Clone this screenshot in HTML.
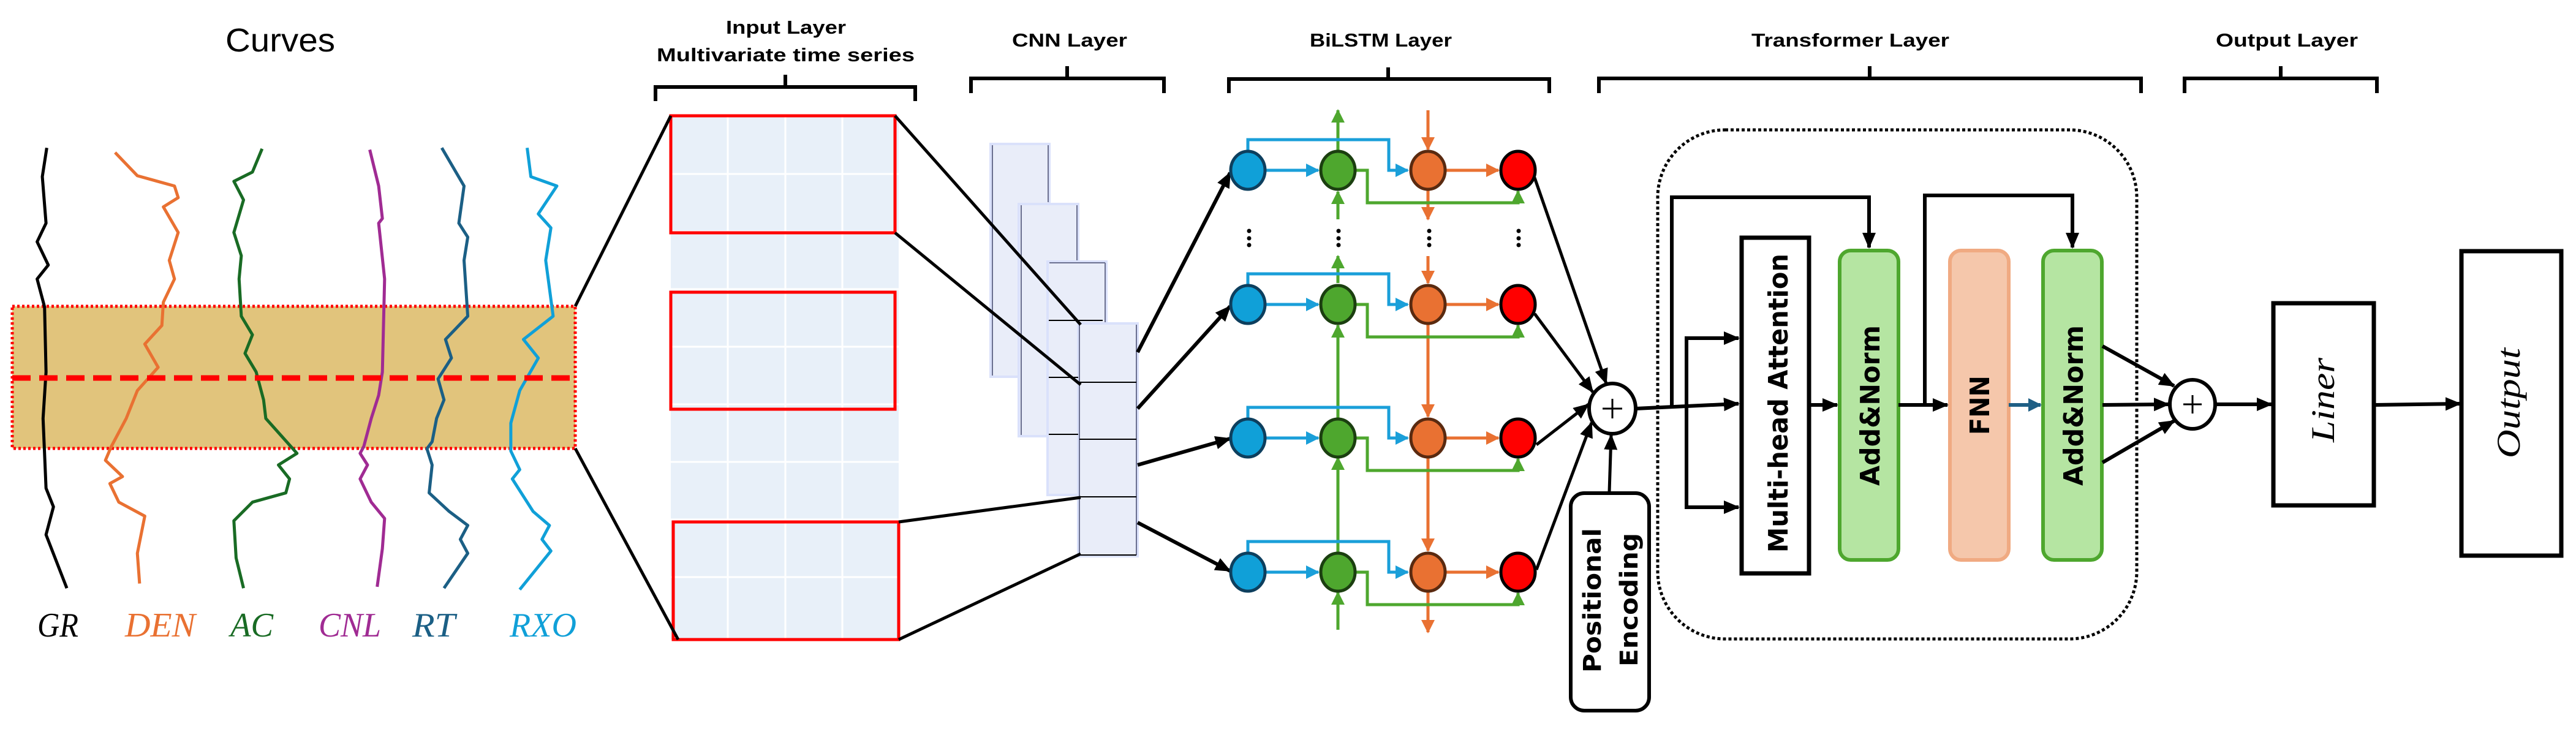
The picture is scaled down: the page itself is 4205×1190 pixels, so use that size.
<!DOCTYPE html>
<html><head><meta charset="utf-8"><style>
html,body{margin:0;padding:0;background:#fff;}
svg{display:block;}
</style></head><body>
<svg width="4205" height="1190" viewBox="0 0 4205 1190" xmlns="http://www.w3.org/2000/svg">
<defs>
<marker id="ak" markerUnits="userSpaceOnUse" markerWidth="26" markerHeight="26" refX="24" refY="13" orient="auto"><path d="M0,2 L26,13 L0,24 Z" fill="#000"/></marker>
<marker id="ab" markerUnits="userSpaceOnUse" markerWidth="22" markerHeight="22" refX="20" refY="11" orient="auto"><path d="M0,0 L22,11 L0,22 Z" fill="#1a9fd9"/></marker>
<marker id="ag" markerUnits="userSpaceOnUse" markerWidth="22" markerHeight="22" refX="20" refY="11" orient="auto"><path d="M0,0 L22,11 L0,22 Z" fill="#4ea72e"/></marker>
<marker id="ao" markerUnits="userSpaceOnUse" markerWidth="22" markerHeight="22" refX="20" refY="11" orient="auto"><path d="M0,0 L22,11 L0,22 Z" fill="#e97132"/></marker>
<marker id="at" markerUnits="userSpaceOnUse" markerWidth="22" markerHeight="22" refX="20" refY="11" orient="auto"><path d="M0,0 L22,11 L0,22 Z" fill="#1f5f85"/></marker>
</defs>

<!-- Headers -->
<g font-family="'Liberation Sans Narrow','Liberation Sans',sans-serif" fill="#000">
<text x="368" y="84" font-size="54" textLength="179" lengthAdjust="spacingAndGlyphs">Curves</text>
<text x="1185" y="55" font-size="31" font-weight="bold" textLength="196" lengthAdjust="spacingAndGlyphs">Input Layer</text>
<text x="1072" y="100" font-size="31" font-weight="bold" textLength="421" lengthAdjust="spacingAndGlyphs">Multivariate time series</text>
<text x="1652" y="76" font-size="31" font-weight="bold" textLength="188" lengthAdjust="spacingAndGlyphs">CNN Layer</text>
<text x="2138" y="76" font-size="31" font-weight="bold" textLength="232" lengthAdjust="spacingAndGlyphs">BiLSTM Layer</text>
<text x="2859" y="76" font-size="31" font-weight="bold" textLength="323" lengthAdjust="spacingAndGlyphs">Transformer Layer</text>
<text x="3617" y="76" font-size="31" font-weight="bold" textLength="232" lengthAdjust="spacingAndGlyphs">Output Layer</text>
</g>
<!-- Brackets -->
<g fill="none" stroke="#000" stroke-width="6">
<path d="M1070,165 V142 H1494 V165 M1282,142 V122"/>
<path d="M1585,152 V128 H1900 V152 M1742,128 V108"/>
<path d="M2006,152 V129 H2529 V152 M2266,129 V110"/>
<path d="M2610,152 V128 H3495 V152 M3052,128 V108"/>
<path d="M3566,152 V128 H3880 V152 M3723,128 V108"/>
</g>

<!-- Curves band -->
<rect x="20" y="500" width="919" height="232" fill="#e1c47c" stroke="#ff0000" stroke-width="5" stroke-dasharray="4 4"/>
<g fill="none" stroke-width="5" stroke-linejoin="round" transform="scale(1.212,0.759)">
<polyline vector-effect="non-scaling-stroke" stroke="#000" points="63,318 57,380 62,480 50,520 65,570 50,600 60,660 62,800 58,900 62,1050 72,1090 62,1150 90,1265"/>
<polyline vector-effect="non-scaling-stroke" stroke="#e97132" points="155,328 185,378 235,400 240,425 220,445 240,500 228,560 235,600 220,650 218,700 195,740 213,790 185,840 170,900 150,960 142,990 165,1025 148,1040 160,1080 195,1110 185,1190 188,1255"/>
<polyline vector-effect="non-scaling-stroke" stroke="#196b24" points="353,320 340,370 315,390 328,430 315,500 325,550 322,600 325,680 340,720 330,760 345,800 355,860 358,900 400,975 375,1000 390,1030 385,1060 340,1080 315,1120 318,1200 328,1265"/>
<polyline vector-effect="non-scaling-stroke" stroke="#a02b93" points="498,322 510,400 515,470 510,480 518,600 515,800 510,850 500,900 490,960 485,975 495,1000 485,1030 500,1080 518,1115 515,1180 508,1262"/>
<polyline vector-effect="non-scaling-stroke" stroke="#1b5f85" points="595,318 625,400 618,480 630,510 625,560 630,680 600,730 608,770 590,815 598,860 588,900 582,950 575,965 582,1000 578,1060 605,1100 630,1130 620,1160 630,1190 598,1265"/>
<polyline vector-effect="non-scaling-stroke" stroke="#10a0d8" points="710,318 715,380 750,400 725,460 742,490 735,560 740,620 745,680 705,730 725,770 700,840 688,910 688,970 700,1010 690,1030 718,1100 740,1130 730,1160 742,1185 700,1268"/>
</g>
<line x1="20" y1="617" x2="939" y2="617" stroke="#ff0000" stroke-width="9" stroke-dasharray="30 14"/>
<g font-family="'Liberation Serif',serif" font-style="italic" font-size="56">
<text x="61" y="1039" fill="#000" textLength="67" lengthAdjust="spacingAndGlyphs">GR</text>
<text x="204" y="1039" fill="#e97132" textLength="115" lengthAdjust="spacingAndGlyphs">DEN</text>
<text x="376" y="1039" fill="#196b24" textLength="70" lengthAdjust="spacingAndGlyphs">AC</text>
<text x="520" y="1039" fill="#a02b93" textLength="102" lengthAdjust="spacingAndGlyphs">CNL</text>
<text x="673" y="1039" fill="#1b5f85" textLength="70" lengthAdjust="spacingAndGlyphs">RT</text>
<text x="832" y="1039" fill="#10a0d8" textLength="109" lengthAdjust="spacingAndGlyphs">RXO</text>
</g>

<!-- Input grid -->
<rect x="1095" y="188" width="372" height="856" fill="#e8f0f9"/>
<g stroke="#fff" stroke-width="3">
<line x1="1188" y1="188" x2="1188" y2="1044"/><line x1="1282" y1="188" x2="1282" y2="1044"/><line x1="1375" y1="188" x2="1375" y2="1044"/>
<line x1="1095" y1="284" x2="1467" y2="284"/><line x1="1095" y1="378" x2="1467" y2="378"/><line x1="1095" y1="472" x2="1467" y2="472"/><line x1="1095" y1="566" x2="1467" y2="566"/><line x1="1095" y1="660" x2="1467" y2="660"/><line x1="1095" y1="754" x2="1467" y2="754"/><line x1="1095" y1="848" x2="1467" y2="848"/><line x1="1095" y1="942" x2="1467" y2="942"/>
</g>
<g fill="none" stroke="#ff0000" stroke-width="5">
<rect x="1095" y="189" width="366" height="191"/>
<rect x="1095" y="477" width="366" height="191"/>
<rect x="1099" y="852" width="368" height="192"/>
</g>
<g stroke="#000" stroke-width="5">
<line x1="939" y1="500" x2="1095" y2="189"/>
<line x1="939" y1="732" x2="1107" y2="1044"/>
</g>

<!-- CNN stacks -->
<g fill="#e9edf9" stroke="#dae1fb" stroke-width="4">
<rect x="1617" y="235" width="96" height="380"/>
<rect x="1663" y="333" width="97" height="379"/>
<rect x="1710" y="427" width="96" height="381"/>
<rect x="1760" y="528" width="97" height="380"/>
</g>
<g stroke="#6b7090" stroke-width="2" fill="none">
<line x1="1620" y1="237" x2="1620" y2="613"/><line x1="1711" y1="237" x2="1711" y2="330"/>
<line x1="1667" y1="335" x2="1667" y2="710"/><line x1="1758" y1="335" x2="1758" y2="425"/>
<line x1="1713" y1="429" x2="1804" y2="429"/><line x1="1804" y1="429" x2="1804" y2="526"/>
<line x1="1762" y1="530" x2="1762" y2="906"/><line x1="1855" y1="530" x2="1855" y2="906"/>
</g>
<g stroke="#000" stroke-width="2">
<line x1="1712" y1="523" x2="1800" y2="523"/><line x1="1712" y1="616" x2="1760" y2="616"/><line x1="1712" y1="709" x2="1760" y2="709"/>
<line x1="1762" y1="624" x2="1855" y2="624"/><line x1="1762" y1="717" x2="1855" y2="717"/><line x1="1762" y1="811" x2="1855" y2="811"/><line x1="1762" y1="906" x2="1855" y2="906"/>
</g>
<g stroke="#000" stroke-width="5">
<line x1="1461" y1="189" x2="1764" y2="530"/>
<line x1="1461" y1="380" x2="1764" y2="628"/>
<line x1="1467" y1="852" x2="1764" y2="812"/>
<line x1="1467" y1="1044" x2="1764" y2="904"/>
</g>
<g stroke="#000" stroke-width="6" marker-end="url(#ak)">
<line x1="1857" y1="575" x2="2008" y2="282"/>
<line x1="1857" y1="667" x2="2008" y2="500"/>
<line x1="1857" y1="759" x2="2008" y2="716"/>
<line x1="1857" y1="853" x2="2008" y2="932"/>
</g>

<!-- BiLSTM -->
<g stroke-width="5" fill="none">
<!-- green vertical (up) -->
<g stroke="#4ea72e" marker-end="url(#ag)">
<line x1="2184" y1="246" x2="2184" y2="180"/>
<line x1="2184" y1="358" x2="2184" y2="313"/>
<line x1="2184" y1="462" x2="2184" y2="418"/>
<line x1="2184" y1="682" x2="2184" y2="531"/>
<line x1="2184" y1="901" x2="2184" y2="747"/>
<line x1="2184" y1="1028" x2="2184" y2="967"/>
</g>
<g stroke="#e97132" marker-end="url(#ao)">
<line x1="2331" y1="180" x2="2331" y2="244"/>
<line x1="2331" y1="310" x2="2331" y2="358"/>
<line x1="2331" y1="418" x2="2331" y2="462"/>
<line x1="2331" y1="530" x2="2331" y2="680"/>
<line x1="2331" y1="746" x2="2331" y2="899"/>
<line x1="2331" y1="966" x2="2331" y2="1032"/>
</g>
</g>
<g fill="#000">
<circle cx="2039" cy="377" r="3.5"/><circle cx="2039" cy="389" r="3.5"/><circle cx="2039" cy="400" r="3.5"/>
<circle cx="2185" cy="377" r="3.5"/><circle cx="2185" cy="389" r="3.5"/><circle cx="2185" cy="400" r="3.5"/>
<circle cx="2333" cy="377" r="3.5"/><circle cx="2333" cy="389" r="3.5"/><circle cx="2333" cy="400" r="3.5"/>
<circle cx="2479" cy="377" r="3.5"/><circle cx="2479" cy="389" r="3.5"/><circle cx="2479" cy="400" r="3.5"/>
</g>

<g id="row1">
<path d="M2037,246 V228 H2267 V278 H2298" stroke="#1a9fd9" stroke-width="5" fill="none" marker-end="url(#ab)"/>
<line x1="2067" y1="278" x2="2152" y2="278" stroke="#1a9fd9" stroke-width="5" marker-end="url(#ab)"/>
<path d="M2214,278 H2232 V331 H2478 V312" stroke="#4ea72e" stroke-width="5" fill="none" marker-end="url(#ag)"/>
<line x1="2361" y1="278" x2="2446" y2="278" stroke="#e97132" stroke-width="5" marker-end="url(#ao)"/>
<ellipse cx="2037" cy="278" rx="28" ry="31" fill="#10a0d8" stroke="#0d3f5e" stroke-width="5"/>
<ellipse cx="2184" cy="278" rx="28" ry="31" fill="#4ea72e" stroke="#1b3f10" stroke-width="5"/>
<ellipse cx="2331" cy="278" rx="28" ry="31" fill="#e97132" stroke="#5a2a10" stroke-width="5"/>
<ellipse cx="2478" cy="278" rx="28" ry="31" fill="#ff0000" stroke="#000" stroke-width="5"/>
</g>
<use href="#row1" y="219"/>
<use href="#row1" y="437"/>
<use href="#row1" y="656"/>

<!-- red to plus -->
<g stroke="#000" stroke-width="5" marker-end="url(#ak)">
<line x1="2505" y1="290" x2="2622" y2="626"/>
<line x1="2505" y1="512" x2="2600" y2="640"/>
<line x1="2508" y1="726" x2="2593" y2="660"/>
<line x1="2508" y1="930" x2="2598" y2="690"/>
<line x1="2627" y1="803" x2="2630" y2="710"/>
</g>
<ellipse cx="2632" cy="667" rx="38" ry="41" fill="#fff" stroke="#000" stroke-width="6"/>
<path d="M2632,651 V683 M2616,667 H2648" stroke="#000" stroke-width="3"/>

<!-- Positional encoding -->
<rect x="2564" y="805" width="128" height="355" rx="22" fill="#fff" stroke="#000" stroke-width="6"/>
<g font-family="'DejaVu Sans',sans-serif" font-weight="bold" font-size="40" fill="#000">
<text transform="translate(2613,1098) rotate(-90)" textLength="236" lengthAdjust="spacingAndGlyphs">Positional</text>
<text transform="translate(2673,1088) rotate(-90)" textLength="218" lengthAdjust="spacingAndGlyphs">Encoding</text>
</g>

<!-- Transformer -->
<rect x="2706" y="212" width="782" height="831" rx="110" fill="none" stroke="#000" stroke-width="5" stroke-dasharray="5 4"/>
<rect x="2843" y="388" width="110" height="548" fill="#fff" stroke="#000" stroke-width="7"/>
<rect x="3003" y="409" width="96" height="505" rx="18" fill="#b5e5a2" stroke="#4ea72e" stroke-width="6"/>
<rect x="3183" y="409" width="96" height="505" rx="18" fill="#f5c7ab" stroke="#f0aa82" stroke-width="6"/>
<rect x="3335" y="409" width="96" height="505" rx="18" fill="#b5e5a2" stroke="#4ea72e" stroke-width="6"/>
<g font-family="'DejaVu Sans',sans-serif" font-weight="bold" font-size="44" fill="#000">
<text transform="translate(2918,902) rotate(-90)" textLength="488" lengthAdjust="spacingAndGlyphs">Multi-head Attention</text>
<text transform="translate(3068,793) rotate(-90)" textLength="262" lengthAdjust="spacingAndGlyphs">Add&amp;Norm</text>
<text transform="translate(3247,710) rotate(-90)" textLength="97" lengthAdjust="spacingAndGlyphs">FNN</text>
<text transform="translate(3400,793) rotate(-90)" textLength="262" lengthAdjust="spacingAndGlyphs">Add&amp;Norm</text>
</g>
<g fill="none" stroke="#000" stroke-width="6">
<path d="M2670,667 L2838,659" marker-end="url(#ak)"/>
<path d="M2729,667 V322 H3051 V404" marker-end="url(#ak)"/>
<path d="M2753,667 V552 H2838" marker-end="url(#ak)"/>
<path d="M2753,667 V828 H2838" marker-end="url(#ak)"/>
<path d="M2953,661 H2999" marker-end="url(#ak)"/>
<path d="M3099,661 H3179" marker-end="url(#ak)"/>
<path d="M3142,661 V319 H3383 V404" marker-end="url(#ak)"/>
<path d="M3432,565 L3549,630" marker-end="url(#ak)"/>
<path d="M3432,661 L3540,660" marker-end="url(#ak)"/>
<path d="M3432,755 L3549,687" marker-end="url(#ak)"/>
<path d="M3616,660 H3708" marker-end="url(#ak)"/>
<path d="M3876,661 L4016,659" marker-end="url(#ak)"/>
</g>
<line x1="3279" y1="661" x2="3331" y2="661" stroke="#1f5f85" stroke-width="6" marker-end="url(#at)"/>
<ellipse cx="3579" cy="660" rx="37" ry="40" fill="#fff" stroke="#000" stroke-width="6"/>
<path d="M3579,645 V675 M3564,660 H3594" stroke="#000" stroke-width="3"/>

<!-- Output layer -->
<rect x="3711" y="495" width="164" height="330" fill="#fff" stroke="#000" stroke-width="7"/>
<rect x="4018" y="410" width="163" height="497" fill="#fff" stroke="#000" stroke-width="7"/>
<g font-family="'Liberation Serif','DejaVu Serif',serif" font-style="italic" font-size="54" fill="#000">
<text transform="translate(3810,722) rotate(-90)" textLength="138" lengthAdjust="spacingAndGlyphs">Liner</text>
<text transform="translate(4113,748) rotate(-90)" textLength="180" lengthAdjust="spacingAndGlyphs">Output</text>
</g>
</svg>
</body></html>
